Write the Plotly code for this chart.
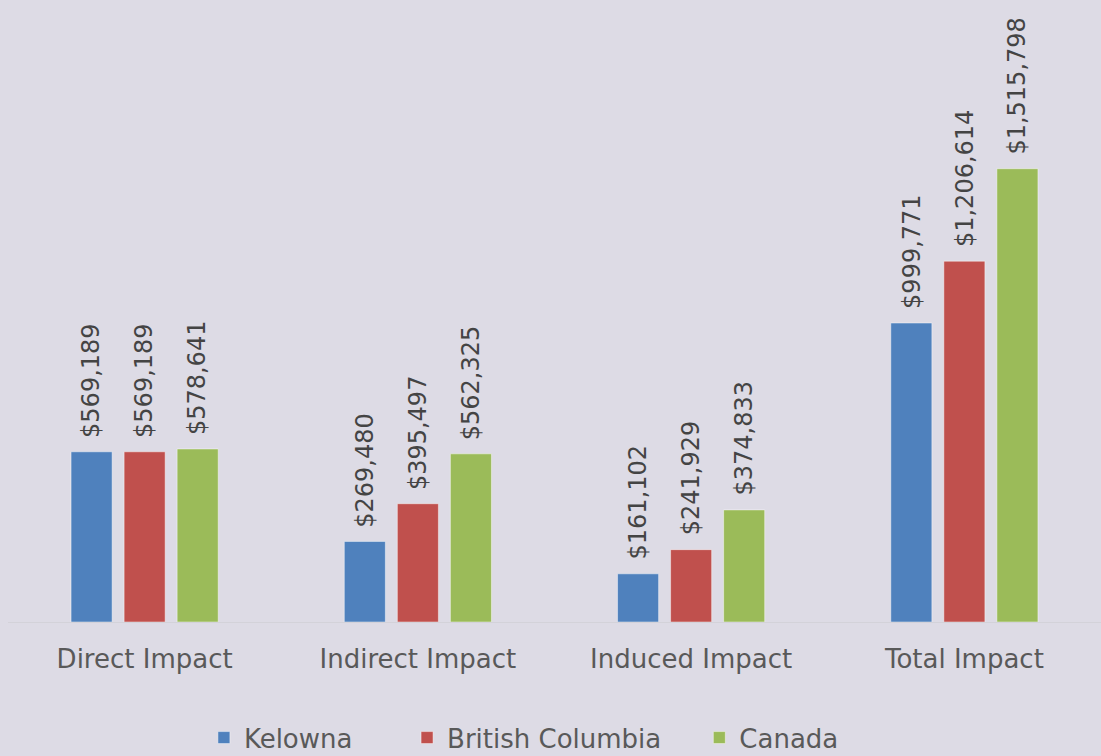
import plotly.graph_objects as go

categories = ["Direct Impact", "Indirect Impact", "Induced Impact", "Total Impact"]
series_names = ["Kelowna", "British Columbia", "Canada"]
kelowna = [569189, 269480, 161102, 999771]
british_columbia = [569189, 395497, 241929, 1206614]
canada = [578641, 562325, 374833, 1515798]
series_values = [kelowna, british_columbia, canada]
colors = ["#4F81BD", "#C0504D", "#9BBB59"]

FONT = "DejaVu Sans"
BG = "#DDDBE5"
pads = ["\u00a0" * 6, "\u00a0" * 4, ""]

fig = go.Figure()
for name, vals, col, pad in zip(series_names, series_values, colors, pads):
    fig.add_trace(go.Bar(
        name=name + pad, x=categories, y=vals,
        marker=dict(color=col, line=dict(color="rgba(255,255,255,0.45)", width=1)),
        hovertemplate=name + ": %{y:$,}<extra></extra>",
    ))

offsets = [-53, 0, 53]
annotations = []
for vals, off in zip(series_values, offsets):
    for c, v in zip(categories, vals):
        annotations.append(dict(
            x=c, y=v, xref="x", yref="y", xshift=off, yshift=12,
            text=f"${v:,}", showarrow=False, textangle=-90,
            xanchor="center", yanchor="bottom",
            font=dict(family=FONT, size=24, color="#444444"),
        ))

fig.update_layout(
    width=1101, height=756,
    paper_bgcolor=BG, plot_bgcolor=BG,
    margin=dict(l=8, r=0, t=0, b=134, autoexpand=False),
    barmode="group", bargap=0.4176, bargroupgap=0.226,
    font=dict(family=FONT, color="#595959"),
    annotations=annotations,
    showlegend=True,
    legend=dict(orientation="h", x=0.472, xanchor="center", y=-0.186, yanchor="middle",
                font=dict(family=FONT, size=26, color="#595959"),
                bgcolor="rgba(0,0,0,0)"),
    xaxis=dict(showline=True, linecolor="#D3D2D9", linewidth=1, showgrid=False,
               ticks="", ticklabelstandoff=14,
               tickfont=dict(family=FONT, size=26, color="#595959")),
    yaxis=dict(visible=False, range=[0, 2080000], showgrid=False, zeroline=False),
)

fig.write_html("out.html")
